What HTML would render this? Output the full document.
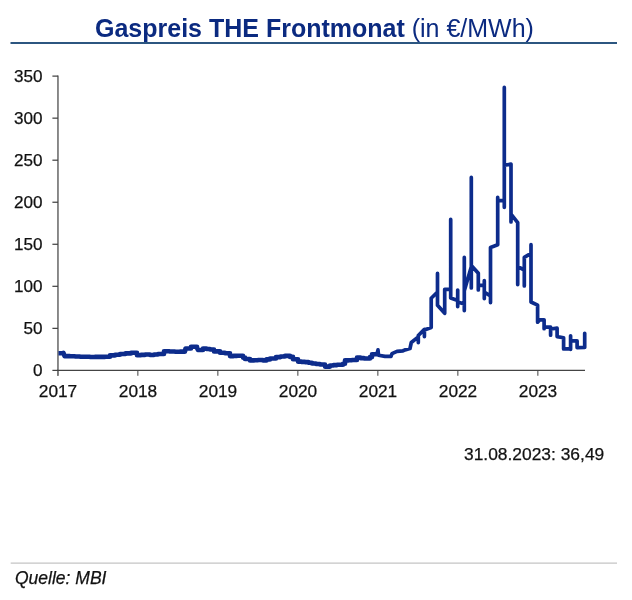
<!DOCTYPE html>
<html><head><meta charset="utf-8">
<style>
html,body{margin:0;padding:0;background:#fff;}
body{width:632px;height:600px;position:relative;overflow:hidden;font-family:"Liberation Sans",sans-serif;}
.title{position:absolute;left:0;top:14px;width:632px;text-align:left;white-space:nowrap;color:#0b2a80;font-size:25px;line-height:28px;}
.title b{font-weight:bold;}
.yl{position:absolute;left:0;width:42.6px;text-align:right;font-size:17.1px;line-height:20px;color:#111;}
.xl{position:absolute;top:381px;width:60px;text-align:center;font-size:17.3px;line-height:20px;color:#111;}
.date{position:absolute;left:463.5px;top:443.5px;font-size:17.4px;line-height:20px;color:#111;white-space:nowrap;}
.src{position:absolute;left:15px;top:567.5px;font-size:17.5px;line-height:20px;color:#111;font-style:italic;white-space:nowrap;}
svg{position:absolute;left:0;top:0;}
.title,.yl,.xl,.date,.src{will-change:transform;}
.yl,.xl,.date,.src{-webkit-text-stroke:0.25px #111;}
</style></head><body>
<svg width="632" height="600" viewBox="0 0 632 600">
<line x1="10.5" y1="42.9" x2="617" y2="42.9" stroke="#2c5680" stroke-width="2"/>
<line x1="10.7" y1="563.1" x2="617" y2="563.1" stroke="#c4c4c4" stroke-width="1.3"/>
<line x1="57.95" y1="75.5" x2="57.95" y2="375.8" stroke="#858585" stroke-width="1.9"/>
<g stroke="#444" stroke-width="1.25">
<line x1="57" y1="370.45" x2="585" y2="370.45"/>
<line x1="52.4" y1="370.40" x2="58" y2="370.40"/><line x1="52.4" y1="328.36" x2="58" y2="328.36"/><line x1="52.4" y1="286.32" x2="58" y2="286.32"/><line x1="52.4" y1="244.28" x2="58" y2="244.28"/><line x1="52.4" y1="202.24" x2="58" y2="202.24"/><line x1="52.4" y1="160.20" x2="58" y2="160.20"/><line x1="52.4" y1="118.16" x2="58" y2="118.16"/><line x1="52.4" y1="76.12" x2="58" y2="76.12"/>
</g>
<g stroke="#777" stroke-width="1.4"><line x1="57.80" y1="371" x2="57.80" y2="375.8"/><line x1="137.80" y1="371" x2="137.80" y2="375.8"/><line x1="217.80" y1="371" x2="217.80" y2="375.8"/><line x1="297.80" y1="371" x2="297.80" y2="375.8"/><line x1="377.80" y1="371" x2="377.80" y2="375.8"/><line x1="457.80" y1="371" x2="457.80" y2="375.8"/><line x1="537.80" y1="371" x2="537.80" y2="375.8"/></g>
<path d="M58.5,353.3 L63.5,353.3 L63.5,352.8 L64.5,356.1 L69.8,356.1 L69.8,356.3 L75.0,356.3 L75.0,356.5 L80.0,356.5 L80.0,356.7 L85.0,356.7 L85.0,356.8 L90.0,356.8 L90.0,357.0 L95.0,357.0 L95.0,356.9 L100.0,356.9 L100.0,356.9 L105.0,356.9 L105.0,356.8 L110.0,356.8 L110.0,355.4 L115.0,355.4 L115.0,354.7 L120.0,354.7 L120.0,354.0 L125.5,354.0 L125.5,353.4 L131.0,353.4 L131.0,352.8 L137.0,352.8 L137.0,355.2 L141.0,355.2 L141.0,354.9 L145.0,354.9 L145.0,354.5 L150.0,354.5 L150.0,355.0 L154.0,355.0 L154.0,354.5 L158.0,354.5 L158.0,354.0 L164.0,354.0 L164.0,351.2 L169.5,351.2 L169.5,351.5 L175.0,351.5 L175.0,351.8 L180.0,351.8 L180.0,351.6 L185.0,351.6 L185.0,351.5 L185.5,348.5 L191.0,348.5 L191.0,346.8 L197.0,346.8 L197.0,348.0 L198.0,350.0 L203.0,350.0 L203.0,348.5 L206.5,348.5 L206.5,349.0 L210.0,349.0 L210.0,349.5 L214.0,349.5 L214.0,351.4 L220.0,351.4 L220.0,352.8 L225.0,352.8 L225.0,353.3 L230.0,353.3 L230.0,356.1 L233.5,356.1 L233.5,355.9 L237.0,355.9 L237.0,355.7 L243.0,355.7 L243.0,357.6 L245.0,357.6 L245.0,359.0 L250.0,359.0 L250.0,360.4 L254.0,360.4 L254.0,360.2 L258.0,360.2 L258.0,360.0 L263.0,360.0 L263.0,360.4 L266.5,360.4 L266.5,359.4 L270.0,359.4 L270.0,358.5 L276.0,358.5 L276.0,357.1 L280.5,357.1 L280.5,356.5 L285.0,356.5 L285.0,355.9 L290.0,355.9 L290.0,356.9 L293.0,356.9 L293.0,359.2 L298.0,359.2 L298.0,361.6 L301.5,361.6 L301.5,361.9 L305.0,361.9 L305.0,362.1 L308.5,362.1 L308.5,362.8 L312.0,362.8 L312.0,363.5 L316.0,363.5 L316.0,364.0 L320.0,364.0 L320.0,364.5 L325.0,364.5 L325.0,366.6 L330.0,366.6 L330.0,365.5 L333.5,365.5 L333.5,365.1 L337.0,365.1 L337.0,364.7 L343.0,364.7 L343.0,363.7 L345.0,363.7 L345.0,360.4 L348.5,360.4 L348.5,360.2 L352.0,360.2 L352.0,360.0 L357.0,360.0 L357.0,357.6 L360.5,357.6 L360.5,358.1 L364.0,358.1 L364.0,358.5 L370.0,358.5 L370.0,357.1 L372.0,357.1 L372.0,354.2 L377.0,354.2 L377.0,353.8" fill="none" stroke="#0d2c8c" stroke-width="4.6" stroke-linejoin="round" stroke-linecap="butt"/>
<path d="M377.0,353.8 L378.0,349.9 L378.5,355.2 L385.0,356.4 L391.0,356.4 L392.0,353.7 L397.0,351.3 L403.0,350.8 L405.0,349.9 L410.0,348.5 L411.3,342.5 L418.3,336.9 L418.3,342.6 L418.3,335.5 L424.4,329.4 L424.4,336.6 L424.4,329.9 L431.2,327.4 L431.2,298.2 L437.5,292.0 L437.5,273.4 L437.5,305.3 L444.7,313.3 L444.7,289.3 L450.7,289.3 L450.7,219.4 L450.7,298.0 L457.7,300.6 L457.7,290.1 L457.7,306.6 L457.7,301.9 L464.3,304.1 L464.3,257.4 L464.3,310.6 L464.3,290.7 L471.3,266.7 L471.3,177.4 L471.3,287.9 L471.3,265.4 L478.3,273.3 L478.3,289.9 L478.3,285.4 L484.3,285.3 L484.3,280.7 L484.3,298.6 L484.3,292.1 L490.5,296.0 L490.5,302.6 L490.5,247.5 L497.7,244.7 L497.7,197.4 L497.7,200.7 L504.3,200.7 L504.3,87.4 L504.3,207.3 L504.3,165.3 L511.0,164.1 L511.0,221.9 L511.0,214.1 L517.7,222.7 L517.7,284.6 L517.7,266.7 L524.3,270.0 L524.3,285.9 L524.3,257.3 L531.0,253.3 L531.0,244.7 L531.0,302.0 L537.6,305.2 L537.6,322.2 L539.8,319.8 L544.1,319.8 L544.1,328.7 L544.1,326.8 L550.6,327.2 L550.6,335.2 L550.6,329.0 L557.1,328.2 L557.1,336.6 L563.6,337.7 L563.6,349.0 L570.6,348.7 L570.6,335.8 L570.6,349.3 L570.6,340.9 L577.1,340.9 L577.1,347.6 L584.7,347.4 L584.7,333.3" fill="none" stroke="#0d2c8c" stroke-width="3.7" stroke-linejoin="round" stroke-linecap="round"/>
</svg>
<div class="title" style="left:95px"><b>Gaspreis THE Frontmonat</b> (in €/MWh)</div>
<div class="yl" style="top:360.90px">0</div><div class="yl" style="top:318.86px">50</div><div class="yl" style="top:276.82px">100</div><div class="yl" style="top:234.78px">150</div><div class="yl" style="top:192.74px">200</div><div class="yl" style="top:150.70px">250</div><div class="yl" style="top:108.66px">300</div><div class="yl" style="top:66.62px">350</div>
<div class="xl" style="left:27.80px">2017</div><div class="xl" style="left:107.80px">2018</div><div class="xl" style="left:187.80px">2019</div><div class="xl" style="left:267.80px">2020</div><div class="xl" style="left:347.80px">2021</div><div class="xl" style="left:427.80px">2022</div><div class="xl" style="left:507.80px">2023</div>
<div class="date">31.08.2023: 36,49</div>
<div class="src">Quelle: MBI</div>
</body></html>
